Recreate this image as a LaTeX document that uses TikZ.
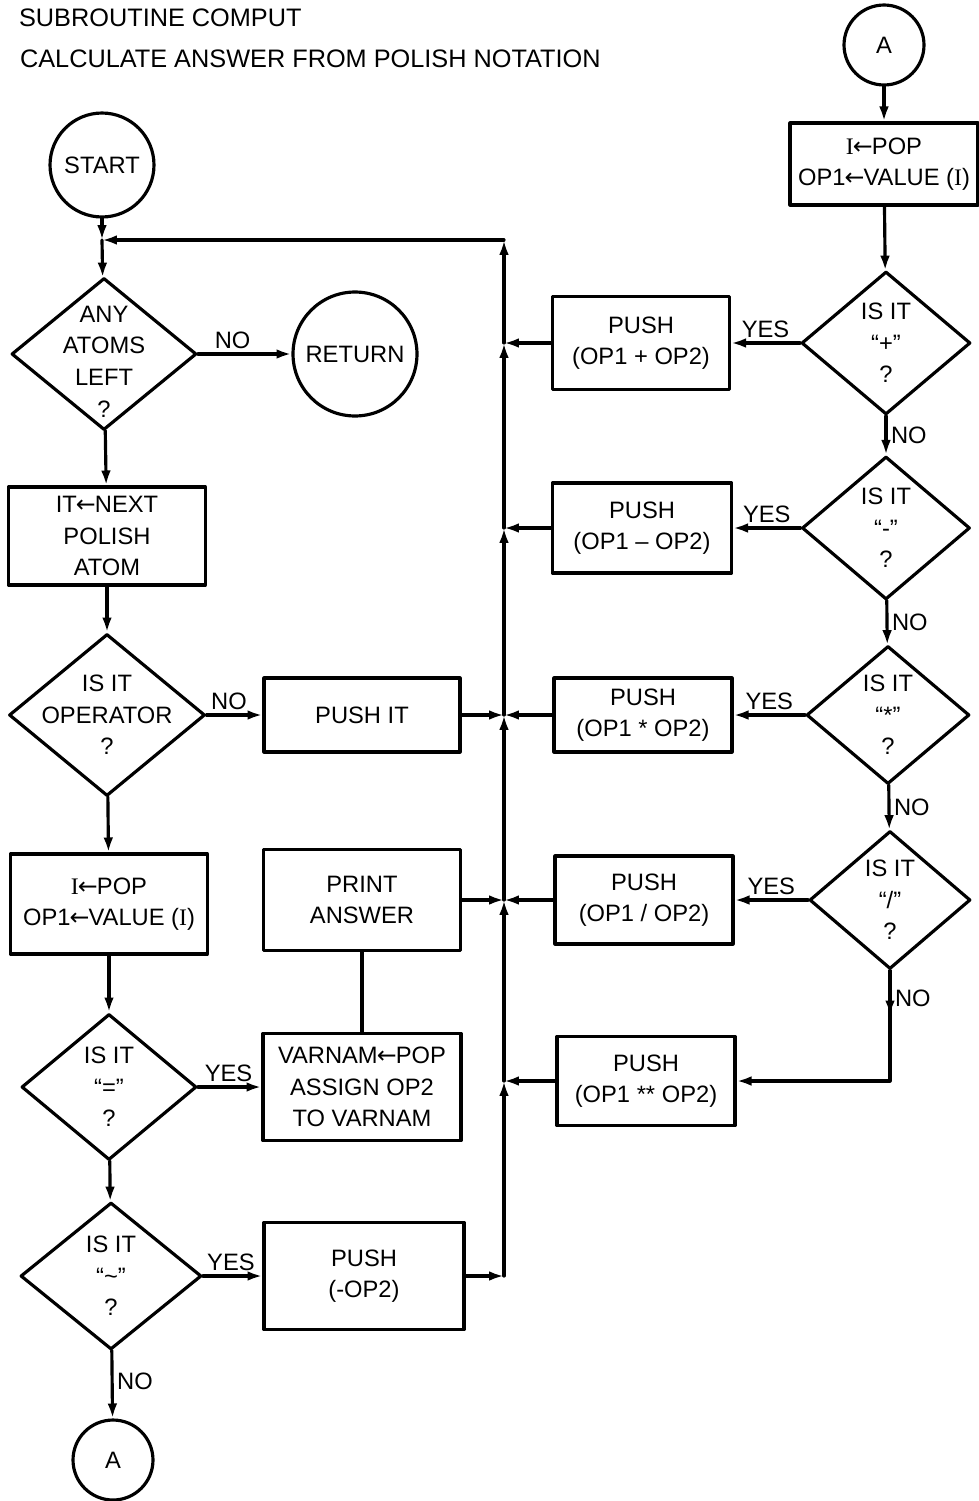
\documentclass[tikz,border=0pt]{standalone}
\usepackage{fontspec}
\setmainfont{Liberation Sans}
\newfontfamily\serifI{Liberation Serif}
\newfontfamily\arrowfont{DejaVu Sans}
\usetikzlibrary{shapes.geometric,arrows.meta,decorations.markings}

\newcommand{\Ivar}{{\serifI I}}
\newcommand{\popto}{{\arrowfont\kern-0.5pt←\kern-0.5pt}}

\begin{document}
\begin{tikzpicture}[
      x=0.02cm, y=-0.02cm,
      line cap=round,
      line join=round,
      line width=1.8pt,
      every node/.style={font=\fontsize{13.5}{18}\selectfont, inner sep=2pt, align=center},
      box/.style 2 args={draw, rectangle, minimum width=#1, minimum height=#2},
      decision/.style 2 args={draw, diamond, inner sep=0pt, minimum width=#1, minimum height=#2},
      term/.style={draw, circle, inner sep=0pt, minimum size=#1},
      flow/.style={-{Latex[length=8.5pt,width=5.5pt]}},
      midflow/.style={postaction={decorate}, decoration={markings,
          mark=at position #1 with {\arrow{Latex[length=8.5pt,width=5.5pt]}}}},
    ]
    \useasboundingbox (0,0) rectangle (979,1501);
    %% Heading.
    \node[anchor=west, font=\fontsize{14.4}{17}\selectfont] (title)    at (14,18) {SUBROUTINE COMPUT};
    \node[anchor=west, font=\fontsize{14.4}{17}\selectfont] (subtitle) at (15,59) {CALCULATE ANSWER FROM POLISH NOTATION};
    %% Left column.
    \node[term=2.08cm] (start) at (102,165) {START};
    \coordinate (jtop) at (102,240);
    \node[decision={3.7cm}{3.04cm},
          label={[yshift=-0.15cm]center:ANY\\ATOMS\\LEFT\\?}] (atoms) at (104,354) {};
    \node[term=2.48cm] (return) at (355,354) {RETURN};
    \node[box={3.94cm}{1.96cm}] (nextatom) at (107,536) {IT\popto NEXT\\POLISH\\ATOM};
    \node[decision={3.92cm}{3.24cm},
          label={center:IS IT\\OPERATOR\\?}] (isop) at (107,715) {};
    \node[box={3.92cm}{1.48cm}] (pushit) at (362,715) {PUSH IT};
    \node[box={3.94cm}{2.0cm}] (popl) at (109,904) {\Ivar\popto POP\\OP1\popto VALUE (\Ivar)};
    \node[box={3.94cm}{2.02cm}] (print) at (362,900) {PRINT\\ANSWER};
    \node[decision={3.5cm}{2.92cm},
          label={center:IS IT\\``=''\\?}] (iseq) at (109,1087) {};
    \node[box={3.96cm}{2.14cm}] (varnam) at (362,1087) {VARNAM\popto POP\\ASSIGN OP2\\TO VARNAM};
    \node[decision={3.62cm}{2.94cm},
          label={center:IS IT\\``\textasciitilde''\\?}] (isneg) at (111,1276) {};
    \node[box={4.0cm}{2.14cm}] (pushneg) at (364,1276) {PUSH\\(-OP2)};
    \node[term=1.6cm] (aout) at (113,1460) {A};
    %% Right column.
    \node[term=1.6cm] (ain) at (884,45) {A};
    \node[box={3.76cm}{1.64cm}] (popr) at (884,164) {\Ivar\popto POP\\OP1\popto VALUE (\Ivar)};
    \node[decision={3.38cm}{2.86cm},
          label={center:IS IT\\``+''\\?}] (isplus) at (886,343) {};
    \node[box={3.54cm}{1.86cm}] (pplus) at (641,343) {PUSH\\(OP1 + OP2)};
    \node[decision={3.36cm}{2.86cm},
          label={center:IS IT\\``-''\\?}] (isminus) at (886,528) {};
    \node[box={3.58cm}{1.8cm}] (pminus) at (642,528) {PUSH\\(OP1 -- OP2)};
    \node[decision={3.26cm}{2.76cm},
          label={center:IS IT\\``*''\\?}] (isstar) at (888,715) {};
    \node[box={3.56cm}{1.48cm}] (pstar) at (643,715) {PUSH\\(OP1 * OP2)};
    \node[decision={3.22cm}{2.76cm},
          label={center:IS IT\\``/''\\?}] (isslash) at (890,900) {};
    \node[box={3.56cm}{1.76cm}] (pslash) at (644,900) {PUSH\\(OP1 / OP2)};
    \node[box={3.56cm}{1.78cm}] (ppow) at (646,1081) {PUSH\\(OP1 ** OP2)};
    %% Return bus up the middle.
    \coordinate (bustop) at (504,240);
    \coordinate (bplus)  at (pplus.west -| bustop);
    \coordinate (bminus) at (pminus.west -| bustop);
    \coordinate (bstar)  at (pstar.west -| bustop);
    \coordinate (bslash) at (pslash.west -| bustop);
    \coordinate (bpow)   at (ppow.west -| bustop);
    \coordinate (bbot)   at (pushneg.east -| bustop);
    \coordinate (kink)   at (isslash.south |- ppow.east);
    %% Left column flow.
    \draw[flow] (start) -- (jtop);
    \draw[flow] (jtop) -- (atoms);
    \draw[flow] (atoms) -- node[above, pos=0.37] {NO} (return);
    \draw[flow] (atoms) -- (nextatom);
    \draw[flow] (nextatom) -- (isop);
    \draw[flow] (isop) -- node[above, pos=0.4] {NO} (pushit);
    \draw[flow] (isop) -- (popl);
    \draw[flow] (popl) -- (iseq);
    \draw[flow] (iseq) -- node[above, pos=0.48] {YES} (varnam);
    \draw (print) -- (varnam);
    \draw[flow] (iseq) -- (isneg);
    \draw[flow] (isneg) -- node[above, pos=0.47] {YES} (pushneg);
    \draw[flow] (isneg) -- node[right, pos=0.45] {NO} (aout);
    %% Right column flow.
    \draw[flow] (ain) -- (popr);
    \draw[flow] (popr) -- (isplus);
    \foreach \d/\p in {isplus/pplus, isminus/pminus, isstar/pstar, isslash/pslash}
      \draw[flow] (\d) -- node[above] {YES} (\p);
    \foreach \d/\e in {isplus/isminus, isminus/isstar, isstar/isslash}
      \draw[flow] (\d) -- node[right] {NO} (\e);
    \draw[flow, midflow=0.17] (isslash.south) -- node[right, pos=0.25] {NO} (kink) -- (ppow.east);
    %% Feeds into the bus.
    \foreach \b/\j in {pplus/bplus, pminus/bminus, pstar/bstar, pushit/bstar,
                       pslash/bslash, print/bslash, ppow/bpow, pushneg/bbot}
      \draw[flow] (\b) -- (\j);
    \foreach \lo/\hi in {bbot/bpow, bpow/bslash, bslash/bstar, bstar/bminus,
                         bminus/bplus, bplus/bustop}
      \draw[flow] (\lo) -- (\hi);
    \draw[flow] (bustop) -- (jtop);
  \end{tikzpicture}
\end{document}
